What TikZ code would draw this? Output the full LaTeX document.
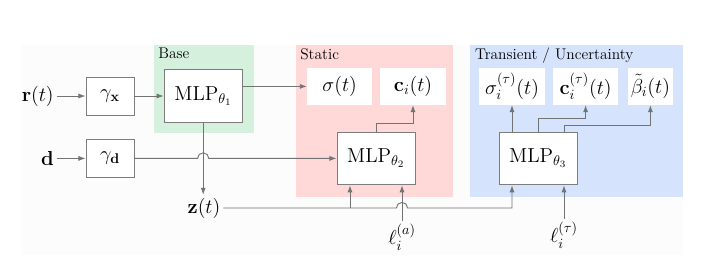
\documentclass[tikz,border=0pt]{standalone}
\usepackage{xcolor}
\usepackage{amsmath}
\usepackage{tikz}
\usetikzlibrary{arrows.meta, positioning, calc}
\definecolor{wiregray}{RGB}{115,115,115}
\definecolor{boxgray}{RGB}{125,125,125}
\definecolor{basegreen}{RGB}{213,240,221}
\definecolor{staticred}{RGB}{255,216,216}
\definecolor{transblue}{RGB}{213,227,252}
\definecolor{bgpaper}{RGB}{252,252,252}
\tikzset{
  encbox/.style={rectangle, draw=boxgray, fill=white,
    minimum width=1.2cm, minimum height=0.95cm, inner sep=0pt,
    font=\fontsize{14}{16}\selectfont, line width=0.7pt},
  mlpbox/.style={rectangle, draw=boxgray, fill=white,
    minimum width=1.95cm, minimum height=1.32cm, inner sep=0pt,
    font=\fontsize{14.5}{17}\selectfont, line width=0.7pt},
  outbox/.style={rectangle, fill=white, minimum height=0.92cm,
    inner sep=0pt, font=\fontsize{14}{16}\selectfont},
  inlabel/.style={inner sep=2pt, font=\fontsize{14}{16}\selectfont},
  grouplabel/.style={anchor=north west, inner sep=0pt,
    font=\fontsize{11}{13}\selectfont},
  arrow/.style={-{Latex[length=5pt, width=3.6pt]}, line width=0.65pt, color=wiregray},
  line/.style={line width=0.65pt, color=wiregray}
}

\begin{document}
\begin{tikzpicture}
  \useasboundingbox (0,0) rectangle (17.875,-6.6);
  % Panels
  \fill[bgpaper] (0.55,-1.125) rectangle (17.075,-6.375);
  \fill[basegreen] (3.85,-1.125) rectangle (6.35,-3.325);
  \fill[staticred] (7.4,-1.125) rectangle (11.325,-4.925);
  \fill[transblue] (11.75,-1.125) rectangle (17.075,-4.925);
  \node[grouplabel] (lbase) at (3.95,-1.2) {Base};
  \node[grouplabel] (lstatic) at (7.5,-1.2) {Static};
  \node[grouplabel] (ltrans) at (11.87,-1.2) {Transient / Uncertainty};

  % Nodes
  \node[inlabel, anchor=east] (rt) at (1.42,-2.4) {$\mathbf{r}(t)$};
  \node[inlabel, anchor=east] (dd) at (1.42,-3.96) {$\mathbf{d}$};
  \node[encbox] (gx) at (2.75,-2.4) {$\gamma_{\mathbf{x}}$};
  \node[encbox] (gd) at (2.75,-3.96) {$\gamma_{\mathbf{d}}$};
  \node[mlpbox] (m1) at (5.08,-2.4) {$\mathrm{MLP}_{\theta_1}$};
  \node[mlpbox] (m2) at (9.4,-3.96) {$\mathrm{MLP}_{\theta_2}$};
  \node[mlpbox] (m3) at (13.45,-3.96) {$\mathrm{MLP}_{\theta_3}$};
  \node[outbox, minimum width=1.625cm] (sig) at (8.49,-2.16) {$\sigma(t)$};
  \node[outbox, minimum width=1.65cm] (col) at (10.325,-2.16) {$\mathbf{c}_i(t)$};
  \node[outbox, minimum width=1.65cm] (sigt) at (12.8,-2.16) {$\sigma_i^{(\tau)}(t)$};
  \node[outbox, minimum width=1.625cm] (colt) at (14.64,-2.16) {$\mathbf{c}_i^{(\tau)}(t)$};
  \node[outbox, minimum width=1.125cm] (beta) at (16.26,-2.16) {$\tilde{\beta}_i(t)$};
  \node[inlabel] (zt) at (5.1,-5.2) {$\mathbf{z}(t)$};
  \node[inlabel] (ela) at (10.05,-5.93) {$\ell_i^{(a)}$};
  \node[inlabel] (elt) at (14.1,-5.88) {$\ell_i^{(\tau)}$};
  \coordinate (m2in) at ($(m2.south)+(-0.65,0)$);
  \coordinate (m3in) at ($(m3.south)+(-0.65,0)$);

  % Encoders
  \draw[arrow] (rt) -- (gx);
  \draw[arrow] (dd) -- (gd);
  \draw[arrow] (gx) -- (m1);

  % Base MLP
  \draw[arrow] (m1.east |- sig.west) -- (sig.west);
  \draw[arrow] (m1.south) -- (m1.south |- zt.north);
  \draw[arrow] (gd.east) -- ($(m1.south |- gd.east)+(-0.14,0)$)
    arc[start angle=180, end angle=0, radius=0.14] -- (m2.west);

  % z(t) bus
  \draw[arrow] (zt.east) -- ($(ela.north |- zt.east)+(-0.14,0)$)
    arc[start angle=180, end angle=0, radius=0.14] -- (m3in |- zt.east) -- (m3in);
  \draw[arrow] (m2in |- zt.east) -- (m2in);
  \draw[arrow] (ela.north) -- (ela.north |- m2.south);
  \draw[arrow] (elt.north) -- (elt.north |- m3.south);

  % Outputs
  \draw[arrow] (m2.north) -- ++(0,0.2) -| (col.south);
  \draw[arrow] (m3.north -| sigt.south) -- (sigt.south);
  \draw[arrow] (m3.north) -- ++(0,0.325) -| (colt.south);
  \draw[arrow] (elt.north |- m3.north) -- ++(0,0.15) -| (beta.south);
\end{tikzpicture}
\end{document}
